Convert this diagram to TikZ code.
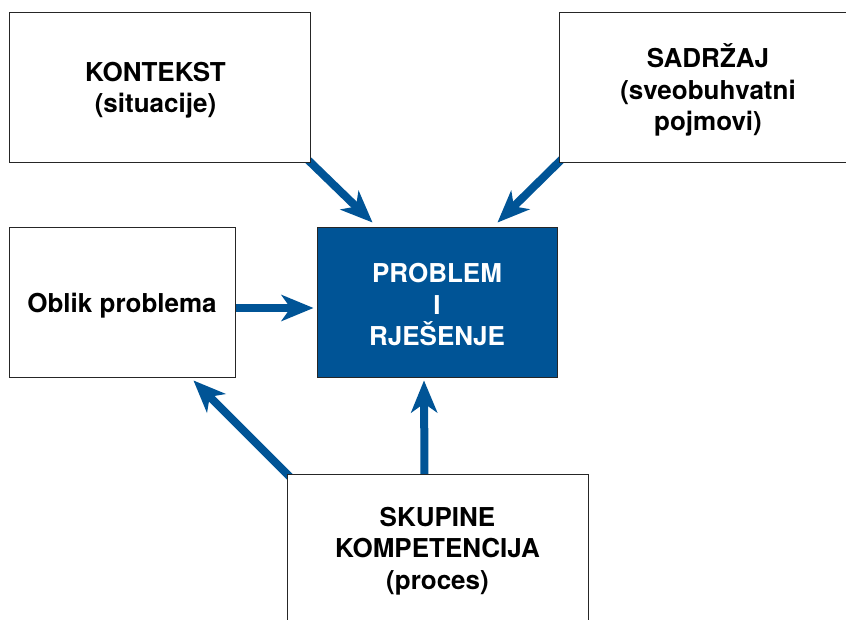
\documentclass[tikz,border=0pt]{standalone}
\usepackage{fontspec}
\setmainfont{TeX Gyre Heros}
\usetikzlibrary{arrows.meta,calc,backgrounds}
\definecolor{pblue}{RGB}{0,84,150}
\begin{document}
\begin{tikzpicture}[x=1pt,y=-1pt,
  box/.style={draw=black!85, line width=0.9pt, fill=white, inner sep=0pt,
    minimum height=150pt},
  lbl/.style={align=center, inner sep=0pt,
    font=\bfseries\fontsize{26}{31.5}\selectfont},
  conn/.style={draw=pblue, line width=8pt,
    -{Stealth[length=32pt,width=26pt,inset=9pt]}}]
\useasboundingbox (0,0) rectangle (846,620);
\clip (0,0) rectangle (846,620);
\node[box, minimum width=301pt] (kontekst) at (159.5,87) {};
\node[box, minimum width=300pt] (sadrzaj) at (709,87) {};
\node[box, minimum width=226pt] (oblik) at (122,302) {};
\node[box, fill=pblue, minimum width=240pt] (problem) at (437,302) {};
\node[box, minimum width=301pt] (skupine) at (437.5,549) {};
\node[lbl] (kontekst-t) at ($(kontekst.center)+(-4,3)$) {KONTEKST\\(situacije)};
\node[lbl] (sadrzaj-t) at ($(sadrzaj.center)+(-1,3)$) {SADRŽAJ\\(sveobuhvatni\\pojmovi)};
\node[lbl] (oblik-t) at ($(oblik.center)+(0,4)$) {Oblik problema};
\node[lbl, text=white] (problem-t) at ($(problem.center)+(0,3)$) {PROBLEM\\I\\RJEŠENJE};
\node[lbl] (skupine-t) at ($(skupine.center)+(0,2)$) {SKUPINE\\KOMPETENCIJA\\(proces)};
\begin{scope}[on background layer]
\draw[conn] ($(kontekst.south east)+(-4,-4)$) -- ($(problem.north west)+(56,-4)$);
\draw[conn] ($(sadrzaj.south west)+(4,-4)$) -- ($(problem.north east)+(-60,-4)$);
\draw[conn] ($(oblik.east)+(-2,6)$) -- ($(problem.west)+(-3,6)$);
\draw[conn] ($(skupine.north)+(-13,4)$) -- ($(problem.south)+(-13,3)$);
\draw[conn] ($(skupine.north west)+(4,4)$) -- ($(oblik.south east)+(-42,3)$);
\end{scope}
\end{tikzpicture}
\end{document}
